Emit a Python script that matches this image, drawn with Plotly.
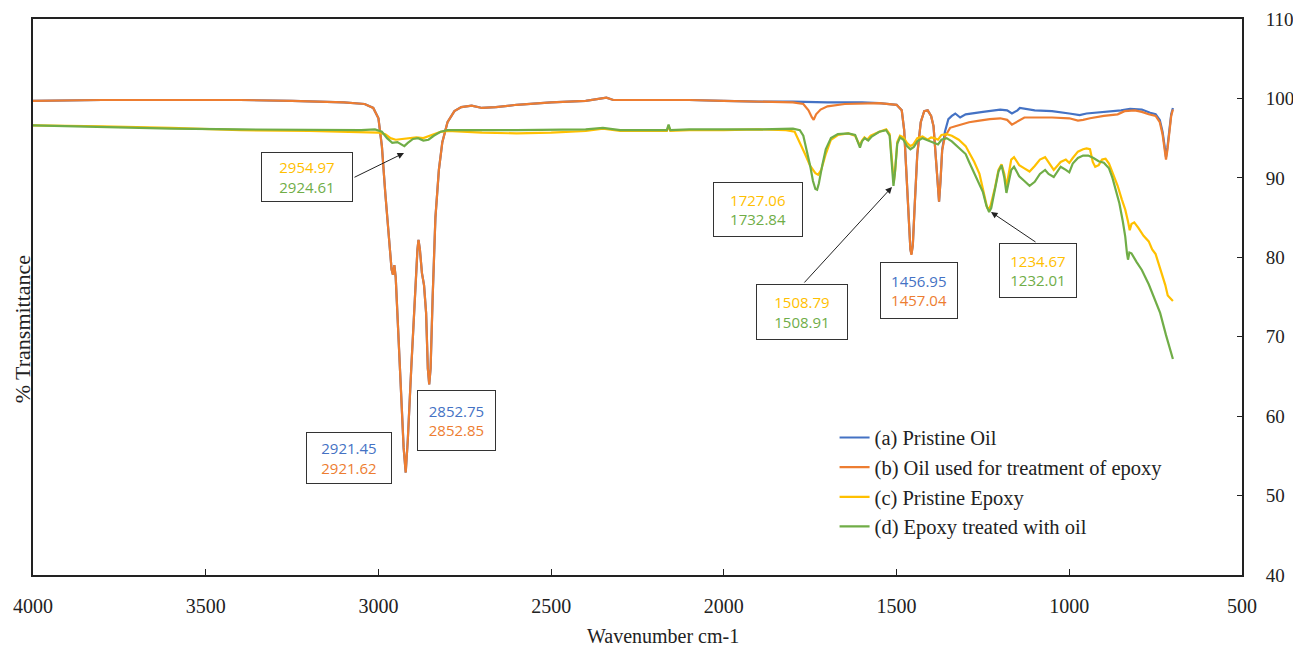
import plotly.graph_objects as go

# ---------------- data ----------------
wn_a = [4000, 3800, 3600, 3400, 3250, 3100, 3040, 3015, 3000, 2990, 2980, 2970, 2962, 2958, 2954, 2950,
        2945, 2935, 2927, 2921, 2915, 2905, 2895, 2887, 2884, 2880, 2874, 2868, 2862, 2857, 2853, 2849,
        2843, 2835, 2825, 2815, 2800, 2780, 2760, 2730, 2700, 2660, 2600, 2500, 2400, 2360, 2340, 2320,
        2200, 2100, 2000, 1900, 1800, 1700, 1600, 1550, 1500, 1485, 1478, 1472, 1466, 1460, 1457, 1453,
        1447, 1440, 1430, 1420, 1410, 1400, 1393, 1387, 1381, 1377, 1373, 1368, 1360, 1350, 1340, 1330,
        1316, 1300, 1250, 1200, 1180, 1166, 1150, 1143, 1100, 1050, 1000, 970, 950, 900, 850, 824,
        790, 766, 750, 738, 730, 724, 720, 716, 710, 705, 700]
t_a = [99.7, 99.8, 99.8, 99.8, 99.7, 99.5, 99.3, 98.8, 97.5, 94.0, 88.0, 82.0, 78.5, 77.8, 79.0, 77.5,
       73.0, 63.0, 56.0, 52.9, 57.0, 66.0, 75.0, 81.0, 82.2, 81.0, 78.0, 76.5, 73.0, 66.0, 64.0, 66.0,
       75.0, 85.0, 91.0, 94.5, 97.0, 98.4, 98.9, 99.1, 98.8, 98.9, 99.2, 99.5, 99.7, 100.0, 100.1, 99.8,
       99.8, 99.8, 99.7, 99.6, 99.6, 99.5, 99.5, 99.4, 99.2, 98.5, 96.0, 91.0, 85.0, 81.0, 80.4, 81.5,
       87.0, 93.0, 97.0, 98.4, 98.5, 97.8, 96.5, 93.0, 89.0, 87.0, 89.5, 93.5, 95.8, 97.4, 97.8, 98.1,
       97.6, 98.0, 98.3, 98.6, 98.5, 98.1, 98.5, 98.8, 98.5, 98.4, 98.1, 97.9, 98.1, 98.3, 98.5, 98.7,
       98.6, 98.2, 98.0, 97.3, 95.8, 94.0, 92.6, 93.8, 96.2, 98.0, 98.8]

wn_b = [4000, 3800, 3600, 3400, 3250, 3100, 3040, 3015, 3000, 2990, 2980, 2970, 2962, 2958, 2954, 2950,
        2945, 2935, 2927, 2921, 2915, 2905, 2895, 2887, 2884, 2880, 2874, 2868, 2862, 2857, 2853, 2849,
        2843, 2835, 2825, 2815, 2800, 2780, 2760, 2730, 2700, 2660, 2600, 2500, 2400, 2360, 2340, 2320,
        2200, 2100, 2000, 1900, 1800, 1770, 1755, 1745, 1740, 1733, 1720, 1700, 1650, 1550, 1500, 1485,
        1478, 1472, 1466, 1460, 1457, 1453, 1447, 1440, 1430, 1420, 1410, 1400, 1393, 1387, 1381, 1377,
        1373, 1368, 1360, 1345, 1330, 1310, 1290, 1260, 1230, 1200, 1180, 1166, 1150, 1130, 1100, 1050,
        1000, 975, 960, 940, 900, 860, 840, 810, 790, 770, 750, 738, 730, 724, 720, 716, 710, 705, 700]
t_b = [99.7, 99.8, 99.8, 99.8, 99.7, 99.5, 99.3, 98.8, 97.5, 94.0, 88.0, 82.0, 78.5, 77.8, 79.0, 77.5,
       73.0, 63.0, 56.0, 52.9, 57.0, 66.0, 75.0, 81.0, 82.2, 81.0, 78.0, 76.5, 73.0, 66.0, 64.0, 66.0,
       75.0, 85.0, 91.0, 94.5, 97.0, 98.4, 98.9, 99.1, 98.8, 98.9, 99.2, 99.5, 99.7, 100.0, 100.1, 99.8,
       99.8, 99.8, 99.7, 99.6, 99.5, 99.3, 98.5, 97.6, 97.3, 98.0, 98.6, 99.0, 99.3, 99.4, 99.2, 98.5,
       96.0, 91.0, 85.0, 81.0, 80.3, 81.5, 87.0, 93.0, 97.0, 98.4, 98.5, 97.8, 96.5, 93.0, 89.0, 87.0,
       89.5, 93.5, 95.2, 96.3, 96.5, 96.8, 97.0, 97.2, 97.4, 97.5, 97.3, 96.7, 97.1, 97.6, 97.6, 97.6,
       97.5, 97.2, 97.3, 97.5, 97.8, 98.0, 98.4, 98.5, 98.3, 98.0, 97.8, 97.0, 95.5, 93.5, 92.3, 93.5,
       96.0, 97.8, 98.6]

wn_c = [4000, 3800, 3600, 3400, 3200, 3050, 3000, 2980, 2965, 2950, 2930, 2910, 2890, 2870, 2850, 2820,
        2800, 2700, 2600, 2500, 2400, 2350, 2300, 2200, 2165, 2160, 2155, 2100, 2000, 1900, 1820, 1795,
        1780, 1765, 1750, 1735, 1727, 1718, 1705, 1690, 1670, 1640, 1620, 1612, 1607, 1600, 1593, 1585,
        1575, 1550, 1530, 1520, 1513, 1508, 1504, 1498, 1490, 1480, 1470, 1460, 1452, 1440, 1425, 1410,
        1400, 1390, 1380, 1370, 1355, 1340, 1320, 1300, 1290, 1275, 1260, 1248, 1238, 1234, 1228, 1215,
        1205, 1196, 1188, 1182, 1176, 1168, 1160, 1145, 1130, 1115, 1100, 1085, 1070, 1060, 1045, 1035,
        1025, 1010, 1000, 990, 975, 960, 950, 940, 932, 925, 915, 905, 895, 885, 870, 860, 848, 838,
        830, 825, 820, 812, 800, 785, 770, 760, 750, 740, 730, 722, 715, 708, 700]
t_c = [96.6, 96.5, 96.3, 96.0, 95.9, 95.8, 95.7, 95.5, 95.0, 94.8, 94.9, 95.0, 95.1, 95.0, 95.3, 95.8,
       95.9, 95.7, 95.6, 95.7, 95.9, 96.2, 95.9, 95.9, 95.9, 96.5, 95.9, 96.0, 96.0, 96.1, 96.0, 95.8,
       94.5, 93.0, 91.5, 90.6, 90.4, 91.0, 93.0, 94.8, 95.4, 95.6, 95.3, 94.5, 94.1, 94.7, 95.1, 94.8,
       95.3, 95.8, 96.1, 95.5, 92.0, 89.5, 91.0, 94.5, 95.3, 95.1, 94.4, 94.0, 94.2, 95.0, 95.2, 94.8,
       95.1, 95.0, 94.8, 95.4, 95.5, 95.3, 94.8, 94.0, 93.2, 92.0, 90.5, 88.0, 86.3, 86.0, 86.5, 88.8,
       91.0, 91.7, 90.5, 88.9, 90.5, 92.3, 92.6, 91.6, 91.2, 90.8, 91.5, 92.3, 92.6, 92.0, 91.0, 91.5,
       92.0, 92.3, 91.9, 92.5, 93.3, 93.6, 93.7, 93.6, 92.0, 91.4, 91.6, 92.3, 92.4, 91.8, 90.2, 89.0,
       87.3, 86.0, 84.5, 83.4, 84.2, 84.4, 83.7, 82.7, 82.0, 81.0, 80.4, 79.0, 77.6, 76.5, 75.2, 74.9,
       74.5]

wn_d = [4000, 3800, 3600, 3400, 3200, 3050, 3010, 2990, 2975, 2960, 2945, 2935, 2925, 2915, 2900, 2885,
        2870, 2855, 2840, 2820, 2800, 2600, 2400, 2350, 2300, 2200, 2165, 2160, 2155, 2100, 2000, 1900,
        1800, 1780, 1770, 1760, 1750, 1742, 1735, 1730, 1725, 1715, 1705, 1690, 1670, 1640, 1620, 1612,
        1606, 1600, 1592, 1582, 1572, 1550, 1530, 1520, 1514, 1509, 1505, 1498, 1490, 1480, 1470, 1460,
        1450, 1440, 1425, 1410, 1395, 1380, 1370, 1355, 1340, 1320, 1300, 1290, 1275, 1260, 1250, 1240,
        1232, 1226, 1215, 1205, 1196, 1188, 1182, 1175, 1168, 1160, 1145, 1130, 1115, 1100, 1085, 1070,
        1060, 1045, 1035, 1025, 1010, 1000, 990, 975, 960, 945, 930, 915, 900, 885, 875, 865, 855, 845,
        838, 833, 830, 826, 820, 805, 790, 770, 750, 737, 720, 710, 700]
t_d = [96.6, 96.4, 96.2, 96.1, 96.0, 96.0, 96.1, 95.8, 95.0, 94.4, 94.5, 94.3, 94.0, 94.4, 94.9, 95.0,
       94.7, 94.8, 95.3, 95.8, 96.0, 96.0, 96.1, 96.3, 96.0, 96.0, 96.0, 96.7, 96.0, 96.1, 96.1, 96.1,
       96.2, 96.0, 95.3, 93.5, 91.5, 89.6, 88.6, 88.5, 89.3, 91.6, 93.6, 95.0, 95.5, 95.6, 95.4, 94.5,
       93.8, 94.6, 95.0, 94.7, 95.2, 95.8, 96.0, 95.3, 92.0, 89.0, 90.5, 94.3, 95.1, 94.8, 94.0, 93.6,
       93.9, 94.6, 95.0, 94.7, 94.5, 94.2, 94.8, 95.0, 94.6, 93.8, 93.0, 92.0, 90.5, 89.2, 88.2, 86.5,
       85.7, 86.2, 88.5, 90.8, 91.6, 90.0, 88.1, 89.5, 91.0, 91.4, 90.2, 89.6, 89.0, 89.5, 90.5, 91.0,
       90.5, 90.1, 90.8, 91.4, 91.0, 90.7, 91.8, 92.5, 92.8, 92.8, 92.5, 92.1, 91.9, 91.2, 90.0, 88.3,
       86.8, 84.5, 82.6, 80.5, 79.7, 80.6, 80.5, 79.4, 78.4, 76.6, 74.5, 73.0, 70.2, 68.7, 67.2]

series_names = ["(a) Pristine Oil", "(b) Oil used for treatment of epoxy",
                "(c) Pristine Epoxy", "(d) Epoxy treated with oil"]
series_colors = ["#4472C4", "#ED7D31", "#FFC000", "#70AD47"]

x_ticks = [4000, 3500, 3000, 2500, 2000, 1500, 1000, 500]
y_ticks = [40, 50, 60, 70, 80, 90, 100, 110]

# peak label boxes: text lines and which series colour each line uses
box_lines = [["2954.97", "2924.61"], ["2921.45", "2921.62"], ["2852.75", "2852.85"],
             ["1727.06", "1732.84"], ["1508.79", "1508.91"], ["1456.95", "1457.04"],
             ["1234.67", "1232.01"]]
box_cols = [[2, 3], [0, 1], [0, 1], [2, 3], [2, 3], [0, 1], [2, 3]]

# ---------------- figure ----------------
fig = go.Figure()
for wn, t, name, col in zip([wn_a, wn_b, wn_c, wn_d], [t_a, t_b, t_c, t_d], series_names, series_colors):
    fig.add_trace(go.Scatter(x=wn, y=t, mode="lines", name=name,
                             line=dict(color=col, width=2.2)))

W, H = 1293, 648
L, R, T, B = 33, 51, 19, 73
pw, ph = W - L - R, H - T - B


def px2paper(px, py):
    return (px - L) / pw, (H - B - py) / ph


box_geom = [(307, 177, 90, 48), (349, 458, 84, 50), (456, 421, 77, 59), (758, 210, 88, 53),
            (802, 312, 90, 54), (919, 290, 76, 55), (1038, 270, 76, 53)]

annotations = []
for lines, cols, (cx, cy, bw, bh) in zip(box_lines, box_cols, box_geom):
    xp, yp = px2paper(cx, cy)
    txt = "<br>".join(f"<span style='color:{series_colors[c]}'>{s}</span>" for s, c in zip(lines, cols))
    annotations.append(dict(x=xp, y=yp, xref="paper", yref="paper", text=txt, showarrow=False,
                            xanchor="center", yanchor="middle",
                            width=bw, height=bh, bgcolor="white", bordercolor="#333333",
                            borderwidth=1, borderpad=0, align="center", valign="middle",
                            font=dict(family="Open Sans", size=15)))

# arrows: tip pixel, start pixel
arrows = [((404, 153), (353, 178)), ((892, 187), (803, 284)), ((991, 212), (1037, 243))]
for (tx, ty), (sx, sy) in arrows:
    xp, yp = px2paper(tx, ty)
    annotations.append(dict(x=xp, y=yp, xref="paper", yref="paper", text="", showarrow=True,
                            ax=sx - tx, ay=sy - ty, arrowhead=2, arrowsize=1.3, arrowwidth=1,
                            arrowcolor="#222222", standoff=0))

annotations.append(dict(x=-0.009, y=0.442, xref="paper", yref="paper", text="% Transmittance",
                        textangle=-90, showarrow=False, xanchor="center", yanchor="middle",
                        font=dict(family="Liberation Serif", size=22, color="#222222")))
annotations.append(dict(x=0.521, y=-0.11, xref="paper", yref="paper", text="Wavenumber cm-1",
                        showarrow=False, xanchor="center", yanchor="middle",
                        font=dict(family="Liberation Serif", size=20, color="#222222")))

fig.update_layout(
    width=W, height=H,
    margin=dict(l=L, r=R, t=T, b=B, autoexpand=False),
    plot_bgcolor="white", paper_bgcolor="white",
    font=dict(family="Liberation Serif", size=19, color="#222222"),
    showlegend=True,
    legend=dict(x=0.663, y=0.283, xanchor="left", yanchor="top", bgcolor="rgba(0,0,0,0)",
                font=dict(family="Liberation Serif", size=20.5, color="#222222"),
                itemwidth=30, tracegroupgap=0),
    annotations=annotations,
    xaxis=dict(range=[4000, 500], tickvals=x_ticks, ticks="inside", ticklen=6, automargin=False,
               tickcolor="#222222", showline=True, linecolor="#222222", linewidth=2, mirror=True,
               showgrid=False, zeroline=False, ticklabelstandoff=12,
               tickfont=dict(family="Liberation Serif", size=20, color="#222222")),
    yaxis=dict(range=[40, 110], tickvals=y_ticks, side="right", ticks="inside", ticklen=5, automargin=False,
               tickcolor="#222222", showline=True, linecolor="#222222", linewidth=2, mirror=True,
               showgrid=False, zeroline=False, ticklabelstandoff=18,
               tickfont=dict(family="Liberation Serif", size=19, color="#222222")),
)

fig.write_html("out.html", config={"displayModeBar": False},
               post_script="document.body.style.margin='0';document.body.style.overflow='hidden';")
